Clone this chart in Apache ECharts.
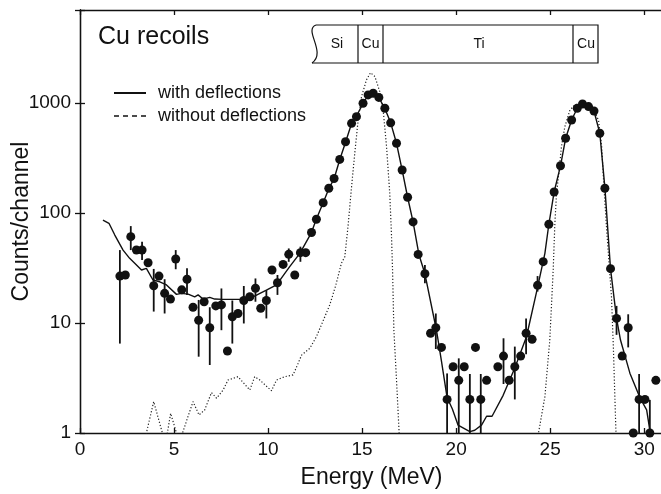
<!DOCTYPE html>
<html>
<head>
<meta charset="utf-8">
<script src="https://cdn.jsdelivr.net/npm/echarts@6/dist/echarts.min.js"></script>
<style>
html, body { margin: 0; padding: 0; background: #fff; }
#chart { width: 661px; height: 494px; }
</style>
</head>
<body>
<div id="chart"></div>
<script>
// simulation "with deflections" (solid line)
var fitX = [1.22, 1.54, 1.85, 2.29, 2.64, 2.91, 3.27, 3.53, 3.88, 4.24, 4.6, 5.13, 5.39, 5.75, 6.1, 6.28, 6.54, 6.9, 7.16, 7.6, 8.5, 9.2, 9.91, 10.45, 11.15, 11.69, 12.3, 12.57, 12.93, 13.23, 13.51, 13.81, 14.12, 14.44, 14.7, 15.05, 15.32, 15.59, 15.89, 16.21, 16.52, 16.83, 17.13, 17.42, 17.71, 18.02, 18.34, 18.96, 19.22, 19.52, 19.8, 20.1, 20.73, 20.99, 21.35, 21.62, 21.91, 22.5, 23.12, 23.74, 24.28, 24.72, 24.93, 25.21, 25.55, 25.82, 26.14, 26.44, 26.72, 27.04, 27.33, 27.64, 27.91, 28.21, 28.53, 28.74, 29.24, 29.77, 30.13, 30.3];
var fitY = [86, 80.6, 63, 46, 38.7, 34.9, 30.3, 31.4, 24.6, 23.7, 22.2, 18.2, 18.6, 18.3, 17.3, 18, 16.5, 17.1, 16.5, 16.4, 16.4, 17.3, 19.9, 22.2, 32.5, 43, 66, 88, 124, 166, 205, 305, 440, 650, 760, 990, 1180, 1220, 1120, 890, 660, 430, 245, 139, 83, 42, 28, 8.5, 4.5, 2.1, 1.65, 1.18, 1.03, 1.06, 1.18, 1.42, 1.42, 2.2, 3.9, 7.5, 19.3, 43, 79, 155, 268, 475, 700, 895, 980, 925, 845, 530, 170, 31, 11, 7, 3.5, 2.1, 1.62, 1.06];

// simulation "without deflections" (dotted line)
var bareX = [3.4, 3.53, 3.92, 4.38, 4.6, 4.82, 5.13, 5.3, 5.45, 6.01, 6.33, 6.63, 6.99, 7.26, 7.61, 7.87, 8.4, 9.03, 9.29, 9.56, 10.18, 10.45, 10.89, 11.33, 11.6, 11.78, 12.22, 12.57, 12.94, 13.28, 13.6, 13.9, 14.08, 14.25, 14.44, 14.61, 14.79, 14.97, 15.23, 15.45, 15.68, 15.94, 16.12, 16.3, 16.47, 16.56, 16.62, 16.69, 16.83, 16.97, 17.1, 24.2, 24.38, 24.72, 24.98, 25.16, 25.25, 25.34, 25.48, 25.6, 25.78, 26.05, 26.31, 26.76, 27.3, 27.57, 27.74, 27.86, 28.0, 28.26, 28.36, 28.44, 28.5, 28.6];
var bareY = [0.7, 1.0, 1.93, 1.0, 0.9, 1.51, 1.0, 0.8, 1.0, 1.93, 1.46, 1.62, 2.33, 2.07, 2.46, 3.03, 3.25, 2.46, 3.25, 3.03, 2.42, 3.03, 3.25, 3.37, 4.3, 5.1, 5.89, 7.5, 10.6, 14.6, 22, 34.9, 40, 75, 173, 349, 700, 1140, 1619, 1884, 1739, 1268, 863, 401, 151, 65, 30, 8.6, 3.03, 1.0, 0.5, 0.5, 1.0, 2.14, 7, 30, 80, 151, 246, 401, 609, 863, 959, 1006, 863, 700, 401, 173, 72, 17.3, 6.1, 2.14, 1.0, 0.5];

// measured counts
var dotX = [2.12, 2.41, 2.7, 3.0, 3.3, 3.62, 3.92, 4.2, 4.5, 4.81, 5.09, 5.41, 5.69, 6.01, 6.31, 6.6, 6.9, 7.22, 7.52, 7.84, 8.1, 8.4, 8.71, 9.03, 9.33, 9.61, 9.91, 10.21, 10.5, 10.8, 11.1, 11.42, 11.72, 12.0, 12.31, 12.57, 12.93, 13.23, 13.51, 13.81, 14.12, 14.44, 14.7, 15.05, 15.32, 15.59, 15.89, 16.21, 16.52, 16.83, 17.13, 17.42, 17.71, 17.98, 18.34, 18.64, 18.92, 19.22, 19.52, 19.84, 20.14, 20.43, 20.73, 21.03, 21.31, 21.62, 22.22, 22.52, 22.82, 23.12, 23.43, 23.72, 24.04, 24.33, 24.63, 24.93, 25.21, 25.55, 25.82, 26.14, 26.44, 26.72, 27.04, 27.33, 27.64, 27.91, 28.21, 28.53, 28.83, 29.15, 29.42, 29.73, 30.04, 30.3, 30.62];
var dotY = [26.7, 27.3, 60.9, 46.1, 46.1, 35.3, 21.8, 26.7, 18.6, 16.5, 38.2, 20, 25, 13.9, 10.6, 15.6, 9.06, 14.3, 14.6, 5.56, 11.4, 12.2, 16, 17.3, 20.7, 13.6, 16, 30.3, 23.2, 34.1, 42.1, 27.3, 43.6, 43.6, 66.5, 87.7, 124, 168, 206, 307, 444, 653, 751, 994, 1183, 1225, 1123, 895, 660, 430, 246, 139, 83, 42, 28, 8.06, 9.06, 6.0, 2.02, 4.0, 3.01, 4.0, 2.02, 6.0, 2.02, 3.01, 4.0, 5.0, 3.01, 4.0, 5.0, 8.06, 7.1, 22, 36.1, 79, 155, 269, 478, 700, 895, 979, 927, 846, 531, 168, 31.2, 11, 5.0, 9.06, 1.0, 2.02, 2.02, 1.0, 3.01];

// error bars
var errX  = [2.12, 2.7, 3.3, 3.92, 4.5, 5.09, 5.69, 6.31, 6.9, 7.52, 8.1, 8.71, 9.33, 9.91, 10.5, 11.1, 11.72, 18.34, 18.92, 19.52, 20.14, 20.73, 21.31, 22.52, 23.12, 23.72, 24.33, 28.53, 29.15, 29.73, 30.3];
var errLo = [6.5, 46, 37.4, 12.7, 12.2, 30.8, 18, 4.94, 4.15, 8.6, 6.5, 9.9, 15.6, 11, 18, 36, 36, 23, 5.8, 1, 1, 1, 1, 2.79, 2.02, 5.2, 19.3, 7.8, 6.0, 1, 1];
var errHi = [46, 76, 54.8, 31, 25, 46, 31.4, 16.2, 13.9, 20.6, 16, 21.7, 25.4, 19.9, 27.3, 47.6, 49.4, 33.7, 12.2, 3.48, 4.77, 3.44, 3.44, 7.26, 6.1, 11, 26.7, 14.3, 12, 3.44, 2.0];

var xTicks = [0, 5, 10, 15, 20, 25, 30];
var yTicks = [1, 10, 100, 1000];
var layers = ['Si', 'Cu', 'Ti', 'Cu'];

var FONT = '"Liberation Sans", Arial, sans-serif';
var INK = '#111';

function pairs(xs, ys) {
	return xs.map(function (x, i) { return [x, ys[i]]; });
}

var chart = echarts.init(document.getElementById('chart'));

var axisLine = { lineStyle: { color: INK, width: 1.3 } };
var axisTick = { inside: true, length: 5, lineStyle: { color: INK, width: 1.3 } };

// layer sketch at the top (Si | Cu | Ti | Cu)
var layerEdges = [358, 383, 573];
var layerCenters = [337, 370.5, 479, 586];
var sketch = [
	{ type: 'polyline', shape: { points: [[316, 25], [598, 25], [598, 63], [312, 63]] },
	  style: { stroke: INK, lineWidth: 1.2, fill: null } },
	{ type: 'bezierCurve', shape: { x1: 316, y1: 25, cpx1: 303, cpy1: 30, cpx2: 327, cpy2: 52, x2: 312, y2: 63 },
	  style: { stroke: INK, lineWidth: 1.2, fill: null } }
];
layerEdges.forEach(function (x) {
	sketch.push({ type: 'line', shape: { x1: x, y1: 25, x2: x, y2: 63 }, style: { stroke: INK, lineWidth: 1.2 } });
});
layers.forEach(function (name, i) {
	sketch.push({ type: 'text', style: { text: name, x: layerCenters[i], y: 44, font: '14px ' + FONT, fill: INK,
		align: 'center', verticalAlign: 'middle', textAlign: 'center', textVerticalAlign: 'middle' } });
});
sketch.push({ type: 'text', style: { text: 'Cu recoils', x: 98, y: 37, font: '25px ' + FONT, fill: INK,
	align: 'left', verticalAlign: 'middle', textAlign: 'left', textVerticalAlign: 'middle' } });

var option = {
	animation: false,
	backgroundColor: '#fff',
	textStyle: { fontFamily: FONT },
	grid: { left: 80, right: -2, top: 10, bottom: 61, containLabel: false, outerBoundsMode: 'none' },
	legend: {
		left: 113,
		top: 84,
		orient: 'vertical',
		padding: 0,
		itemGap: 5,
		itemWidth: 32,
		itemHeight: 14,
		selectedMode: false,
		itemStyle: { opacity: 0 },
		textStyle: { fontSize: 18, color: INK, fontFamily: FONT, padding: [0, 0, 0, 7] },
		data: [
			{ name: 'with deflections', itemStyle: { opacity: 0 } },
			{ name: 'without deflections', itemStyle: { opacity: 0 }, lineStyle: { type: [5, 4], width: 1.3, color: INK } }
		]
	},
	xAxis: [
		{
			type: 'value', min: 0, max: 31, interval: 5, position: 'bottom',
			axisLine: axisLine, axisTick: axisTick, splitLine: { show: false },
			axisLabel: {
				fontSize: 19, color: INK, margin: 7, fontFamily: FONT,
				formatter: function (v) { return xTicks.indexOf(v) >= 0 ? String(v) : ''; }
			},
			name: 'Energy (MeV)', nameLocation: 'middle', nameGap: 33, nameMoveOverlap: false,
			nameTextStyle: { fontSize: 23, color: INK, fontFamily: FONT }
		},
		{
			type: 'value', min: 0, max: 31, interval: 5, position: 'top',
			axisLine: axisLine, axisTick: axisTick, splitLine: { show: false },
			axisLabel: { show: false }
		}
	],
	yAxis: [
		{
			type: 'log', logBase: 10, min: 1, max: 7000, position: 'left',
			axisLine: axisLine, axisTick: axisTick, splitLine: { show: false },
			minorTick: { show: false },
			axisLabel: {
				fontSize: 19, color: INK, margin: 9, fontFamily: FONT,
				formatter: function (v) { return yTicks.indexOf(Math.round(v)) >= 0 && Math.abs(v - Math.round(v)) < 1e-6 ? String(Math.round(v)) : ''; }
			},
			name: 'Counts/channel', nameLocation: 'middle', nameGap: 47, nameMoveOverlap: false,
			nameTextStyle: { fontSize: 23, color: INK, fontFamily: FONT }
		},
		{
			type: 'log', logBase: 10, min: 1, max: 7000, position: 'right',
			axisLine: axisLine, axisTick: axisTick, splitLine: { show: false },
			axisLabel: { show: false }
		}
	],
	graphic: sketch,
	series: [
		{
			name: 'without deflections',
			type: 'line',
			data: pairs(bareX, bareY),
			symbol: 'none',
			clip: true,
			itemStyle: { color: INK },
			lineStyle: { color: '#222', width: 1.2, type: [1.2, 2] },
			z: 2
		},
		{
			name: 'with deflections',
			type: 'line',
			data: pairs(fitX, fitY),
			symbol: 'none',
			clip: true,
			itemStyle: { color: INK },
			lineStyle: { color: INK, width: 1.4 },
			z: 3
		},
		{
			type: 'custom',
			data: errX.map(function (x, i) { return [x, errLo[i], errHi[i]]; }),
			encode: { x: 0, y: [1, 2] },
			clip: true,
			renderItem: function (params, api) {
				var a = api.coord([api.value(0), api.value(1)]);
				var b = api.coord([api.value(0), api.value(2)]);
				return {
					type: 'line',
					shape: { x1: a[0], y1: a[1], x2: b[0], y2: b[1] },
					style: { stroke: INK, lineWidth: 1.8 }
				};
			},
			z: 4
		},
		{
			type: 'scatter',
			data: pairs(dotX, dotY),
			symbol: 'circle',
			symbolSize: 9,
			clip: false,
			itemStyle: { color: INK, opacity: 1 },
			z: 5
		}
	]
};

chart.setOption(option);
</script>
</body>
</html>
